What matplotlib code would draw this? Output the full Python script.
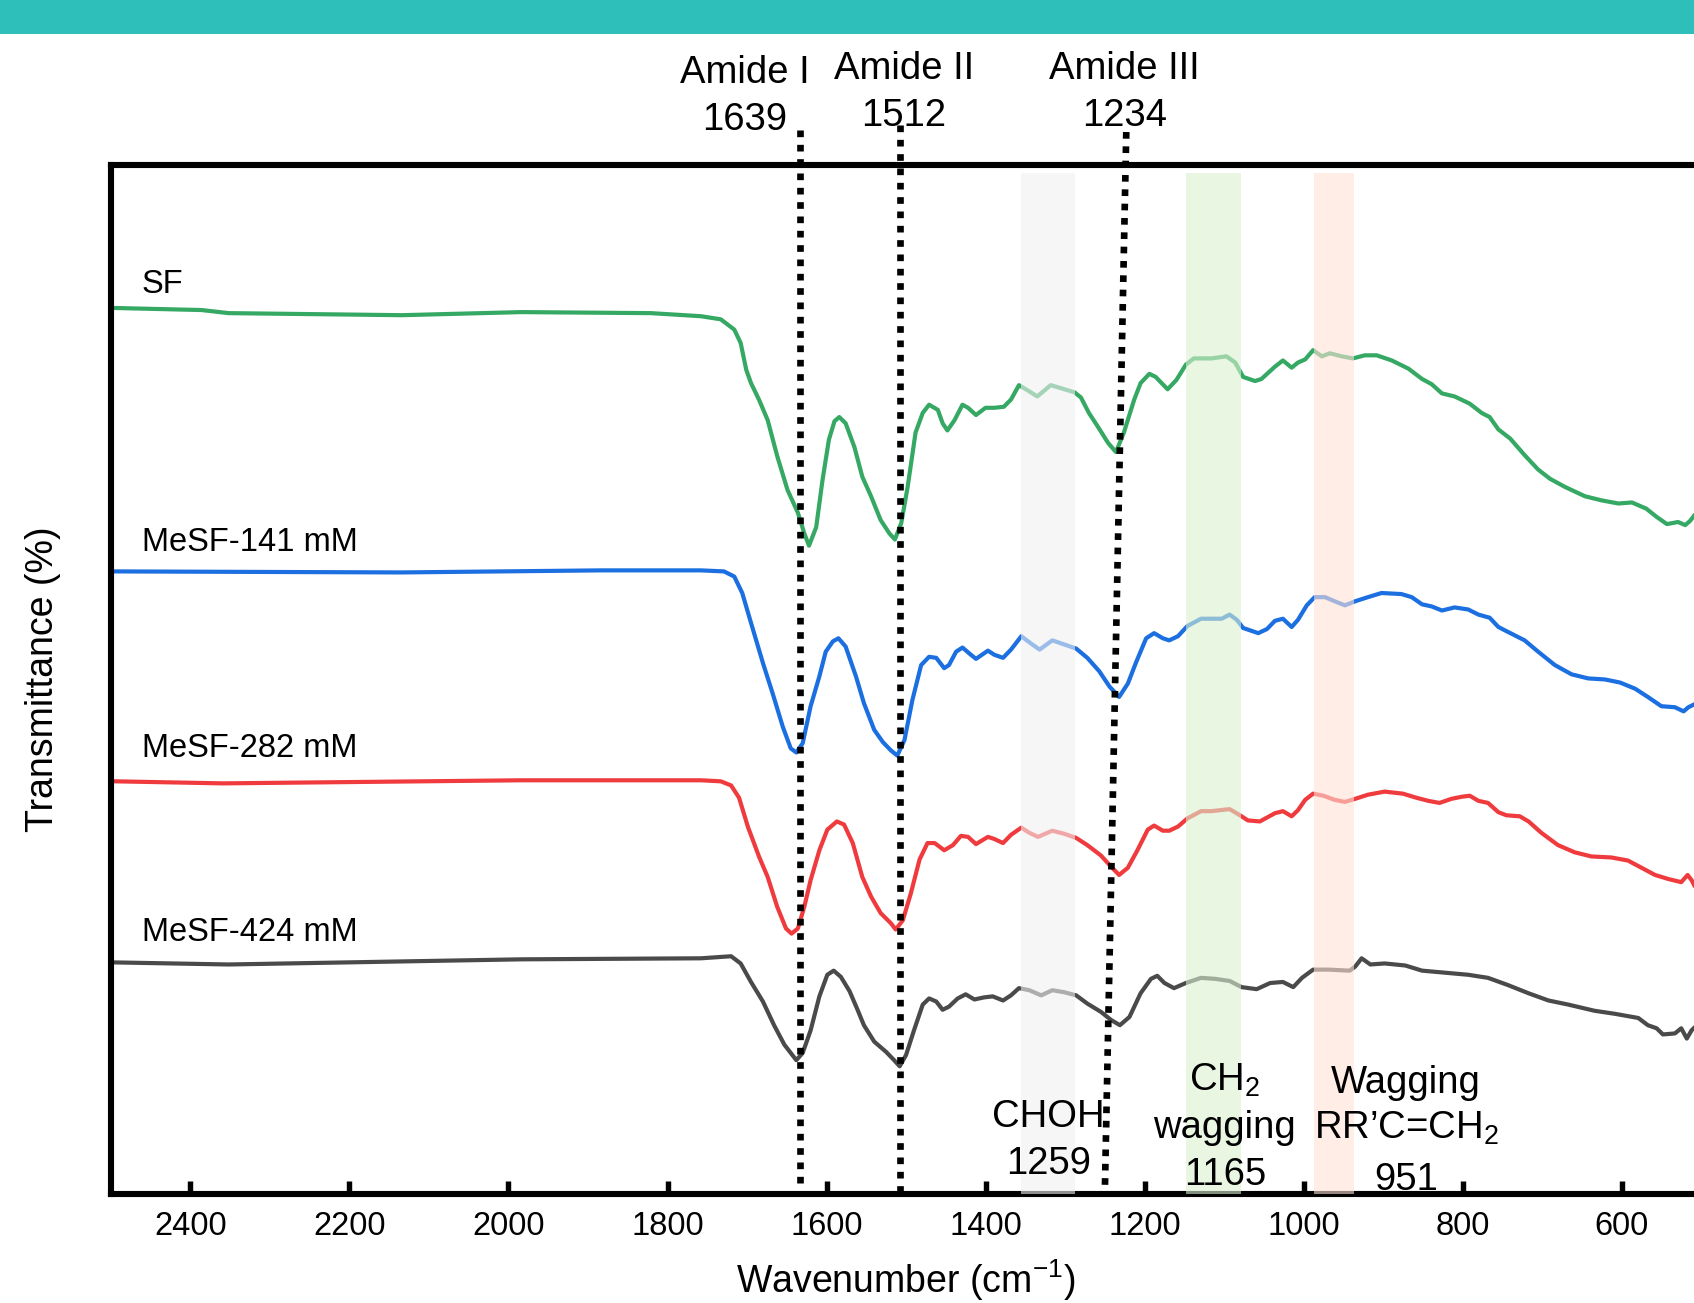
import matplotlib
matplotlib.use('Agg')
import matplotlib.pyplot as plt
from matplotlib.patches import Rectangle

# FTIR spectra, (wavenumber, transmittance in arbitrary offset units)
sf = [(2495, 86.1), (2386, 85.9), (2352, 85.6), (2134, 85.4), (1984, 85.7), (1821, 85.6),
      (1758, 85.3), (1733, 85.0), (1716, 84.0), (1708, 82.7), (1701, 80.1), (1695, 78.8),
      (1685, 77.2), (1674, 75.2), (1662, 71.7), (1649, 68.4), (1636, 66.2), (1628, 64.2),
      (1622, 63.0), (1613, 64.8), (1605, 69.4), (1597, 73.3), (1590, 75.1), (1584, 75.5),
      (1576, 74.9), (1565, 72.6), (1555, 69.7), (1544, 67.8), (1532, 65.5), (1521, 64.2),
      (1514, 63.6), (1506, 65.2), (1498, 68.7), (1488, 74.0), (1479, 75.9), (1471, 76.7),
      (1460, 76.2), (1454, 74.9), (1448, 74.2), (1439, 75.2), (1429, 76.7), (1422, 76.4),
      (1412, 75.7), (1400, 76.4), (1389, 76.4), (1377, 76.5), (1368, 77.2), (1358, 78.6),
      (1345, 78.0), (1335, 77.5), (1318, 78.6), (1305, 78.3), (1288, 77.9), (1280, 77.4),
      (1270, 75.9), (1259, 74.6), (1246, 73.0), (1236, 72.1), (1226, 74.0), (1213, 77.2),
      (1205, 78.8), (1194, 79.7), (1186, 79.4), (1171, 78.2), (1160, 79.1), (1148, 80.6),
      (1138, 81.2), (1116, 81.2), (1097, 81.4), (1086, 80.8), (1076, 79.4), (1061, 79.0),
      (1053, 79.2), (1036, 80.4), (1026, 81.0), (1015, 80.3), (1007, 80.8), (998, 81.1),
      (988, 82.0), (977, 81.4), (967, 81.7), (952, 81.4), (938, 81.2), (923, 81.5),
      (908, 81.5), (889, 81.0), (868, 80.2), (851, 79.2), (839, 78.7), (826, 77.8),
      (810, 77.5), (791, 76.8), (776, 75.9), (766, 75.5), (755, 74.3), (740, 73.4),
      (722, 71.8), (705, 70.4), (690, 69.5), (671, 68.7), (646, 67.8), (625, 67.4),
      (604, 67.1), (587, 67.2), (569, 66.6), (556, 65.8), (543, 65.1), (529, 65.3),
      (520, 65.0), (514, 65.4), (508, 66.0), (500, 66.3)]

mesf_141 = [(2495, 60.5), (2135, 60.4), (1884, 60.6), (1758, 60.6), (1729, 60.5), (1716, 60.0),
            (1706, 58.4), (1695, 55.5), (1680, 51.6), (1668, 48.7), (1655, 45.4), (1645, 43.3),
            (1638, 42.9), (1630, 43.8), (1620, 47.4), (1609, 50.3), (1601, 52.7), (1592, 53.7),
            (1585, 54.0), (1576, 53.2), (1563, 50.3), (1553, 47.7), (1540, 45.1), (1529, 43.9),
            (1519, 43.1), (1511, 42.6), (1502, 44.1), (1492, 48.0), (1481, 51.4), (1471, 52.2),
            (1462, 52.1), (1452, 51.1), (1446, 51.4), (1437, 52.7), (1429, 53.1), (1420, 52.5),
            (1412, 52.0), (1397, 52.8), (1389, 52.4), (1378, 52.1), (1368, 52.9), (1355, 54.2),
            (1343, 53.5), (1332, 52.9), (1316, 53.8), (1301, 53.4), (1286, 53.0), (1272, 52.1),
            (1257, 50.8), (1244, 49.3), (1232, 48.3), (1221, 49.6), (1211, 51.6), (1198, 54.0),
            (1188, 54.5), (1177, 54.0), (1169, 53.8), (1158, 54.2), (1146, 55.2), (1129, 55.9),
            (1120, 55.9), (1103, 55.9), (1093, 56.3), (1084, 55.8), (1076, 55.0), (1057, 54.5),
            (1046, 54.9), (1036, 55.7), (1026, 55.9), (1015, 55.1), (1007, 55.8), (996, 57.2),
            (986, 58.0), (973, 58.0), (961, 57.6), (948, 57.2), (935, 57.6), (919, 58.0),
            (902, 58.4), (877, 58.3), (864, 58.0), (851, 57.3), (839, 57.1), (826, 56.7),
            (810, 57.0), (793, 56.8), (780, 56.3), (766, 56.0), (755, 55.1), (745, 54.7),
            (722, 53.8), (705, 52.7), (684, 51.4), (663, 50.5), (642, 50.1), (621, 50.0),
            (602, 49.7), (583, 49.1), (567, 48.3), (550, 47.4), (533, 47.3), (522, 46.9),
            (516, 47.3), (508, 47.6), (500, 47.8)]

mesf_282 = [(2495, 40.1), (2359, 39.9), (1984, 40.2), (1758, 40.2), (1733, 40.1), (1720, 39.7),
            (1710, 38.5), (1699, 35.7), (1685, 32.8), (1674, 30.8), (1662, 27.9), (1651, 25.8),
            (1644, 25.3), (1636, 25.8), (1628, 27.9), (1620, 30.5), (1609, 33.4), (1599, 35.4),
            (1587, 36.2), (1578, 35.9), (1567, 34.1), (1555, 30.8), (1544, 28.9), (1532, 27.3),
            (1519, 26.3), (1513, 25.7), (1504, 26.6), (1494, 29.2), (1483, 32.5), (1473, 34.1),
            (1464, 34.1), (1452, 33.4), (1441, 33.9), (1431, 34.8), (1422, 34.7), (1412, 34.0),
            (1397, 34.7), (1389, 34.5), (1378, 34.1), (1368, 34.9), (1355, 35.6), (1345, 35.1),
            (1334, 34.7), (1316, 35.3), (1301, 35.0), (1286, 34.6), (1272, 33.9), (1255, 32.9),
            (1242, 31.8), (1232, 31.0), (1221, 31.7), (1209, 33.4), (1196, 35.4), (1188, 35.8),
            (1177, 35.3), (1169, 35.3), (1158, 35.7), (1146, 36.5), (1129, 37.2), (1116, 37.2),
            (1093, 37.4), (1080, 36.8), (1070, 36.3), (1055, 36.2), (1036, 37.0), (1026, 37.2),
            (1015, 36.7), (1007, 37.3), (998, 38.3), (988, 38.9), (975, 38.7), (961, 38.3),
            (948, 38.1), (935, 38.4), (919, 38.8), (898, 39.1), (875, 38.9), (858, 38.5),
            (843, 38.2), (829, 38.0), (814, 38.4), (801, 38.6), (791, 38.7), (780, 38.2),
            (768, 38.0), (755, 37.1), (745, 36.8), (728, 36.7), (717, 36.2), (701, 35.1),
            (680, 33.9), (659, 33.2), (638, 32.8), (613, 32.7), (592, 32.4), (575, 31.7),
            (558, 31.0), (541, 30.6), (525, 30.3), (517, 31.0), (512, 30.5), (508, 29.9),
            (500, 29.6)]

mesf_424 = [(2495, 22.5), (2352, 22.3), (1984, 22.8), (1758, 22.9), (1720, 23.1), (1708, 22.4),
            (1695, 20.6), (1680, 18.7), (1666, 16.4), (1653, 14.5), (1638, 13.0), (1630, 13.7),
            (1620, 15.9), (1609, 19.2), (1599, 21.3), (1591, 21.7), (1582, 21.1), (1571, 19.7),
            (1561, 17.9), (1553, 16.4), (1540, 14.8), (1525, 13.8), (1515, 13.0), (1508, 12.4),
            (1500, 13.5), (1490, 15.9), (1479, 18.4), (1471, 19.0), (1462, 18.7), (1454, 17.9),
            (1446, 18.2), (1435, 19.0), (1425, 19.4), (1414, 18.9), (1402, 19.1), (1391, 19.2),
            (1378, 18.8), (1368, 19.3), (1358, 20.0), (1345, 19.8), (1330, 19.3), (1316, 19.8),
            (1301, 19.6), (1286, 19.3), (1272, 18.5), (1255, 17.7), (1242, 16.9), (1231, 16.4),
            (1219, 17.2), (1205, 19.5), (1192, 20.9), (1184, 21.2), (1175, 20.5), (1163, 20.0),
            (1148, 20.5), (1129, 21.0), (1111, 20.9), (1093, 20.7), (1078, 20.1), (1059, 19.9),
            (1042, 20.5), (1026, 20.6), (1013, 20.1), (1002, 21.0), (988, 21.8), (969, 21.8),
            (942, 21.7), (935, 22.1), (927, 22.9), (916, 22.3), (898, 22.4), (872, 22.2),
            (851, 21.7), (822, 21.5), (793, 21.3), (768, 21.0), (743, 20.3), (717, 19.5),
            (692, 18.8), (667, 18.4), (634, 17.8), (608, 17.5), (579, 17.1), (567, 16.4),
            (556, 16.1), (548, 15.5), (533, 15.6), (525, 16.1), (518, 15.1), (512, 15.9),
            (508, 16.2), (500, 16.4)]

series = [('SF', sf, '#35a864', 87.6),
          ('MeSF-141 mM', mesf_141, '#1b6fe0', 62.5),
          ('MeSF-282 mM', mesf_282, '#ef3b3d', 42.5),
          ('MeSF-424 mM', mesf_424, '#4a4a4a', 24.6)]

# highlighted regions (wavenumber ranges)
bands = [(1288, 1356, '#f0f0f0'), (1079, 1148, '#d9f0d0'), (937, 987, '#ffe2d6')]

# peak guide lines: (top wavenumber, bottom wavenumber, top y)
peak_lines = [(1633, 1633, 103.4), (1508, 1508, 103.9), (1223, 1250, 103.2)]

xticks = [2400, 2200, 2000, 1800, 1600, 1400, 1200, 1000, 800, 600]

plt.rcParams['font.family'] = ['Liberation Sans', 'DejaVu Sans']
plt.rcParams['mathtext.fontset'] = 'custom'
plt.rcParams['mathtext.rm'] = 'Liberation Sans'
plt.rcParams['mathtext.it'] = 'Liberation Sans:italic'
plt.rcParams['mathtext.bf'] = 'Liberation Sans:bold'


def main():
    fig = plt.figure(figsize=(16.94, 13.03), dpi=100)
    # teal header strip
    fig.add_artist(Rectangle((0, 1 - 33.5 / 1303), 1, 33.5 / 1303,
                             transform=fig.transFigure, color='#2ebfba', lw=0))

    ax = fig.add_axes([0.0655, 0.0837, 0.9387, 0.7897])
    ax.set_xlim(2500, 500)
    ax.set_ylim(0, 100)

    for name, pts, color, ylab in series:
        wn, t = zip(*pts)
        ax.plot(wn, t, color=color, lw=3.0, zorder=2, solid_joinstyle='round')
        ax.text(2461, ylab, name, fontsize=23.5, va='baseline', ha='left')

    for lo, hi, c in bands:
        ax.axvspan(lo, hi, ymin=0, ymax=0.992, color=c, alpha=0.6, lw=0, zorder=3)

    for w_top, w_bot, y_top in peak_lines:
        ax.plot([w_top, w_bot], [y_top, 0], color='black', lw=4.8,
                ls=(0, (1, 1.15)), dash_capstyle='butt', clip_on=False, zorder=4)

    # annotations above the frame
    notes = [(1703, ['Amide I', '1639'], [108.0, 103.4]),
             (1503, ['Amide II', '1512'], [108.4, 103.8]),
             (1225, ['Amide III', '1234'], [108.4, 103.8]),
             (1321, ['CHOH', '1259'], [6.5, 1.9]),
             (1099, ['CH$_2$', 'wagging', '1165'], [10.0, 5.4, 0.9]),
             (871, ['Wagging', 'RR\u2019C=CH$_2$', '951'], [9.8, 5.4, 0.4])]
    for x, lines, ys in notes:
        for s, y in zip(lines, ys):
            ax.text(x, y, s, fontsize=27.5, ha='center', va='baseline',
                    clip_on=False, zorder=5)

    ax.set_xticks(xticks)
    ax.set_yticks([])
    ax.tick_params(axis='x', direction='in', length=9.5, width=3.9,
                   labelsize=23.5, pad=12)
    for s in ax.spines.values():
        s.set_linewidth(4.4)

    ax.set_xlabel('Wavenumber (cm$^{-1}$)', fontsize=27)
    ax.xaxis.set_label_coords(0.5, -0.0965)
    ax.xaxis.label.set_va('baseline')
    ax.set_ylabel('Transmittance (%)', fontsize=27)
    ax.yaxis.set_label_coords(-0.0428, 0.5)
    ax.yaxis.label.set_va('center')

    fig.savefig('out.png', dpi=100)


if __name__ == '__main__':
    main()
